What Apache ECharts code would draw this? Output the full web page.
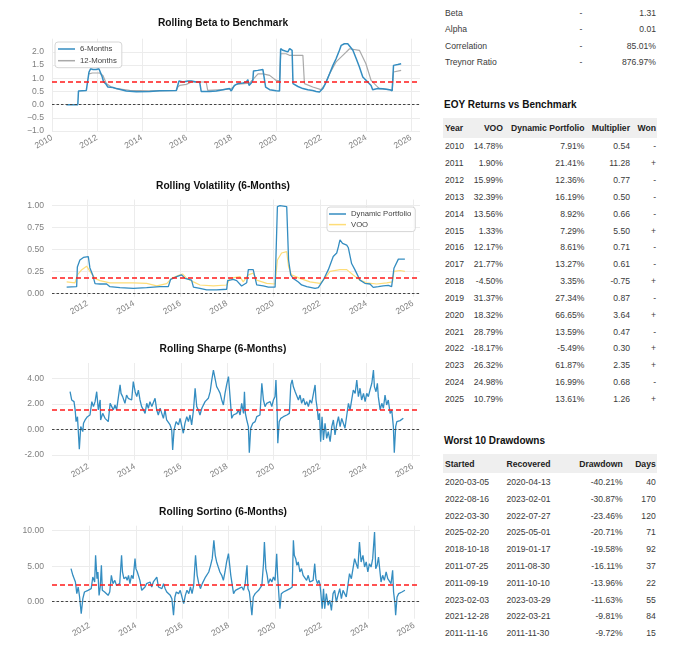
<!DOCTYPE html>
<html>
<head>
<meta charset="utf-8">
<script src="https://cdn.jsdelivr.net/npm/echarts@6/dist/echarts.min.js"></script>
<style>
  body { margin: 0; background: #fff; font-family: 'Liberation Sans', Arial, sans-serif; }
  #page { position: relative; width: 680px; height: 662px; overflow: hidden; }
  #main { position: absolute; left: 0; top: 0; width: 420px; height: 662px; }
  .c { position: absolute; height: 12px; line-height: 12px; font-size: 8.6px; color: #3a3a3a; white-space: nowrap; }
  .hd { font-weight: bold; color: #222; }
  .bg { position: absolute; background: #efefef; }
  .ttl { position: absolute; left: 444px; height: 12px; line-height: 12px; font-size: 10px; font-weight: bold; color: #111; }
</style>
</head>
<body>
<div id="page">
  <div id="main"></div>
</div>
<script>
// ---- rolling beta (year, value)
var beta6 = [[2010.64,0],[2011.15,0],[2011.18,0.52],[2011.53,0.54],[2011.61,0.54],[2011.65,1.24],[2011.72,1.36],[2011.83,1.33],[2011.97,1.33],[2012.09,1.36],[2012.15,1.24],[2012.24,1.05],[2012.30,0.86],[2012.39,0.80],[2012.49,0.67],[2012.72,0.65],[2012.87,0.61],[2012.94,0.54],[2013.31,0.52],[2013.76,0.49],[2014.35,0.50],[2014.80,0.53],[2015.54,0.54],[2015.62,0.53],[2015.66,0.90],[2015.84,0.86],[2015.91,0.92],[2016.06,0.90],[2016.13,0.95],[2016.21,0.90],[2016.43,0.86],[2016.58,0.86],[2016.65,0.50],[2017.02,0.50],[2017.32,0.52],[2017.62,0.57],[2017.91,0.61],[2017.99,0.52],[2018.13,0.73],[2018.29,0.80],[2018.51,0.82],[2018.66,0.86],[2018.73,0.95],[2018.78,0.73],[2018.88,0.82],[2018.95,0.92],[2018.98,1.28],[2019.17,1.30],[2019.40,1.33],[2019.47,1.28],[2019.52,0.67],[2019.70,0.57],[2019.99,0.53],[2020.14,0.52],[2020.19,2.12],[2020.29,2.06],[2020.51,2.00],[2020.59,2.12],[2020.62,2.06],[2020.70,2.06],[2020.74,0.80],[2020.96,0.69],[2021.18,0.61],[2021.40,0.57],[2021.62,0.54],[2021.77,0.50],[2021.92,0.48],[2022.07,0.61],[2022.22,0.86],[2022.37,1.17],[2022.52,1.49],[2022.66,1.74],[2022.81,2.06],[2022.89,2.25],[2023.03,2.31],[2023.18,2.31],[2023.26,2.37],[2023.41,2.06],[2023.56,1.74],[2023.70,1.43],[2023.85,1.05],[2024.07,0.86],[2024.22,0.73],[2024.29,0.57],[2024.52,0.61],[2024.74,0.60],[2025.04,0.57],[2025.16,0.53],[2025.22,1.49],[2025.41,1.52],[2025.56,1.55]];
var beta12 = [[2011.65,1.17],[2011.80,1.20],[2012.12,1.20],[2012.27,1.11],[2012.42,0.80],[2012.64,0.67],[2012.87,0.61],[2013.46,0.54],[2014.35,0.52],[2015.54,0.54],[2015.60,0.66],[2015.69,0.73],[2015.99,0.77],[2016.21,0.86],[2016.58,0.86],[2016.87,0.86],[2016.94,0.54],[2017.62,0.57],[2017.99,0.61],[2018.21,0.77],[2018.80,0.82],[2018.98,0.98],[2019.18,1.17],[2019.40,1.17],[2019.70,1.11],[2019.99,0.92],[2020.14,0.90],[2020.19,1.93],[2020.43,1.93],[2020.58,1.87],[2021.18,1.87],[2021.25,0.80],[2021.62,0.67],[2021.99,0.57],[2022.14,0.73],[2022.37,1.17],[2022.66,1.62],[2022.96,1.87],[2023.26,2.12],[2023.70,2.06],[2023.99,1.55],[2024.22,0.92],[2024.44,0.73],[2024.59,0.61],[2025.04,0.57],[2025.16,0.55],[2025.22,1.24],[2025.56,1.30]];
var betaMean = 0.87;

// ---- rolling volatility
var volPort = [[2011.11,0.07],[2011.54,0.076],[2011.57,0.30],[2011.68,0.38],[2011.83,0.41],[2012.04,0.42],[2012.11,0.29],[2012.23,0.21],[2012.33,0.11],[2012.54,0.106],[2012.83,0.106],[2012.97,0.076],[2013.40,0.065],[2013.98,0.057],[2014.55,0.065],[2015.12,0.076],[2015.48,0.076],[2015.58,0.16],[2015.84,0.19],[2016.05,0.21],[2016.13,0.22],[2016.20,0.17],[2016.48,0.15],[2016.56,0.07],[2016.84,0.057],[2017.13,0.038],[2017.56,0.038],[2017.99,0.046],[2018.03,0.145],[2018.27,0.16],[2018.42,0.145],[2018.63,0.084],[2018.85,0.12],[2018.92,0.27],[2019.13,0.27],[2019.21,0.25],[2019.28,0.095],[2019.56,0.084],[2019.78,0.07],[2020.07,0.07],[2020.17,0.99],[2020.28,1.00],[2020.57,0.99],[2020.65,0.38],[2020.74,0.21],[2020.85,0.17],[2021.07,0.13],[2021.21,0.095],[2021.43,0.076],[2021.79,0.057],[2021.93,0.065],[2022.14,0.15],[2022.36,0.27],[2022.57,0.42],[2022.72,0.46],[2022.79,0.53],[2022.86,0.61],[2022.97,0.57],[2023.15,0.55],[2023.22,0.52],[2023.36,0.34],[2023.50,0.27],[2023.72,0.15],[2023.93,0.114],[2024.15,0.106],[2024.29,0.068],[2024.51,0.076],[2024.72,0.084],[2024.94,0.09],[2025.08,0.076],[2025.18,0.285],[2025.37,0.39],[2025.65,0.39]];
var volVoo = [[2011.11,0.13],[2011.47,0.12],[2011.57,0.21],[2011.76,0.27],[2011.97,0.31],[2012.11,0.25],[2012.33,0.17],[2012.54,0.145],[2012.97,0.12],[2013.98,0.12],[2014.55,0.114],[2014.98,0.084],[2015.41,0.11],[2015.62,0.17],[2015.98,0.21],[2016.10,0.22],[2016.27,0.17],[2016.56,0.13],[2016.84,0.095],[2017.42,0.084],[2017.99,0.095],[2018.13,0.17],[2018.56,0.19],[2018.70,0.13],[2018.92,0.21],[2019.13,0.23],[2019.28,0.15],[2019.71,0.114],[2020.07,0.106],[2020.17,0.38],[2020.35,0.46],[2020.57,0.475],[2020.65,0.30],[2020.78,0.21],[2021.14,0.17],[2021.57,0.13],[2022.00,0.114],[2022.21,0.17],[2022.43,0.25],[2022.86,0.27],[2023.15,0.27],[2023.43,0.21],[2023.72,0.15],[2024.01,0.12],[2024.44,0.106],[2024.87,0.12],[2025.12,0.13],[2025.18,0.25],[2025.44,0.26],[2025.65,0.25]];
var volMean = 0.18;

// ---- rolling sharpe
var sharpe = [[2011.21,2.95],[2011.28,2.30],[2011.38,2.17],[2011.43,1.52],[2011.47,0.60],[2011.53,0.99],[2011.61,-1.57],[2011.67,0.21],[2011.76,-0.18],[2011.79,0.47],[2011.86,0.73],[2011.96,0.99],[2012.07,1.12],[2012.15,2.17],[2012.22,1.78],[2012.29,2.17],[2012.36,2.95],[2012.43,1.52],[2012.51,2.30],[2012.53,0.73],[2012.62,1.25],[2012.72,0.86],[2012.79,0.73],[2012.86,0.60],[2012.94,2.04],[2013.01,1.78],[2013.08,1.52],[2013.15,1.91],[2013.22,1.52],[2013.30,1.65],[2013.37,3.48],[2013.41,2.82],[2013.48,2.56],[2013.58,2.04],[2013.65,2.69],[2013.72,2.43],[2013.80,2.56],[2013.87,2.30],[2013.94,3.74],[2014.02,2.95],[2014.09,2.56],[2014.16,3.08],[2014.23,2.30],[2014.30,1.78],[2014.38,1.52],[2014.45,1.25],[2014.52,2.04],[2014.59,1.65],[2014.66,2.17],[2014.74,1.78],[2014.81,1.65],[2014.88,2.43],[2014.95,1.52],[2015.02,1.12],[2015.10,1.65],[2015.17,1.25],[2015.24,0.86],[2015.31,1.52],[2015.38,0.73],[2015.46,0.86],[2015.53,0.34],[2015.60,-0.05],[2015.64,-1.62],[2015.70,-0.05],[2015.79,0.60],[2015.89,0.34],[2015.96,0.86],[2016.03,0.73],[2016.10,-0.31],[2016.17,0.47],[2016.25,0.99],[2016.32,0.60],[2016.39,1.12],[2016.46,0.34],[2016.54,1.52],[2016.61,3.22],[2016.68,1.78],[2016.75,1.52],[2016.82,1.12],[2016.90,1.65],[2016.97,1.52],[2017.04,2.17],[2017.11,2.04],[2017.18,2.43],[2017.26,2.95],[2017.33,3.87],[2017.40,4.65],[2017.47,4.00],[2017.54,3.35],[2017.62,3.08],[2017.69,2.82],[2017.76,2.30],[2017.83,1.91],[2017.90,2.82],[2017.97,3.48],[2018.05,4.13],[2018.19,0.86],[2018.26,1.12],[2018.34,0.99],[2018.41,1.25],[2018.48,1.52],[2018.55,1.12],[2018.62,2.04],[2018.70,1.25],[2018.74,2.95],[2018.78,1.25],[2018.84,0.73],[2018.91,0.21],[2018.95,-1.83],[2019.01,0.08],[2019.10,0.47],[2019.20,0.60],[2019.27,0.99],[2019.34,0.86],[2019.41,1.12],[2019.49,3.61],[2019.56,2.30],[2019.63,1.78],[2019.70,2.04],[2019.77,1.91],[2019.85,2.17],[2019.92,1.78],[2019.99,2.30],[2020.06,2.56],[2020.10,3.87],[2020.15,1.52],[2020.18,-1.10],[2020.24,0.60],[2020.31,0.86],[2020.42,0.99],[2020.57,1.12],[2020.68,1.25],[2020.74,3.48],[2020.80,3.87],[2020.85,3.35],[2020.93,2.95],[2021.00,2.82],[2021.07,2.30],[2021.14,2.69],[2021.21,2.04],[2021.29,2.43],[2021.36,1.91],[2021.43,2.17],[2021.50,1.78],[2021.57,2.30],[2021.64,2.04],[2021.72,2.82],[2021.79,3.48],[2021.83,2.30],[2021.89,1.52],[2021.93,0.73],[2021.98,1.25],[2022.03,-0.97],[2022.09,0.99],[2022.15,-0.84],[2022.22,0.47],[2022.29,-0.71],[2022.36,-0.18],[2022.44,-0.97],[2022.51,0.21],[2022.58,0.73],[2022.65,-0.44],[2022.72,0.34],[2022.80,0.99],[2022.87,0.21],[2022.94,0.86],[2023.01,0.47],[2023.08,0.08],[2023.16,1.12],[2023.23,2.04],[2023.30,1.52],[2023.37,2.30],[2023.44,3.08],[2023.52,2.82],[2023.59,3.87],[2023.66,2.56],[2023.73,3.22],[2023.80,2.30],[2023.88,2.82],[2023.95,2.17],[2024.02,2.82],[2024.09,2.56],[2024.16,3.08],[2024.24,3.61],[2024.31,4.65],[2024.35,3.35],[2024.42,2.95],[2024.48,3.61],[2024.52,2.56],[2024.60,1.52],[2024.67,2.04],[2024.74,1.65],[2024.81,2.69],[2024.88,1.91],[2024.95,2.30],[2025.03,1.25],[2025.10,1.52],[2025.17,0.21],[2025.21,-1.83],[2025.27,0.21],[2025.32,0.60],[2025.39,0.47],[2025.46,0.68],[2025.53,0.73],[2025.60,0.86]];
var sharpeMean = 1.51;

// ---- rolling sortino
var sortino = [[2011.20,4.65],[2011.28,3.71],[2011.35,3.94],[2011.39,2.77],[2011.45,1.13],[2011.51,2.07],[2011.57,0.66],[2011.64,-1.69],[2011.71,0.42],[2011.78,1.36],[2011.86,1.13],[2011.93,1.60],[2012.00,1.36],[2012.07,1.83],[2012.14,3.47],[2012.22,2.77],[2012.26,6.53],[2012.32,3.24],[2012.36,4.18],[2012.41,0.89],[2012.46,2.07],[2012.51,5.12],[2012.55,1.60],[2012.65,1.36],[2012.72,1.60],[2012.80,0.89],[2012.87,1.36],[2012.94,3.71],[2013.01,2.54],[2013.09,3.00],[2013.16,2.30],[2013.23,2.54],[2013.30,2.54],[2013.38,6.53],[2013.42,4.18],[2013.48,3.24],[2013.57,3.47],[2013.62,3.00],[2013.68,3.71],[2013.74,2.54],[2013.81,3.71],[2013.88,3.24],[2013.96,6.06],[2014.00,4.65],[2014.06,4.18],[2014.12,4.41],[2014.17,3.00],[2014.25,1.60],[2014.32,1.83],[2014.39,2.07],[2014.46,2.54],[2014.54,2.30],[2014.61,2.77],[2014.68,2.07],[2014.75,2.77],[2014.83,2.54],[2014.90,3.47],[2014.97,2.07],[2015.04,2.30],[2015.12,1.83],[2015.19,2.54],[2015.26,1.83],[2015.33,1.36],[2015.41,1.60],[2015.48,0.89],[2015.55,0.42],[2015.62,-1.92],[2015.68,0.66],[2015.74,1.36],[2015.84,1.13],[2015.91,1.60],[2015.99,1.36],[2016.06,-0.28],[2016.13,0.89],[2016.20,1.60],[2016.28,1.13],[2016.35,2.07],[2016.42,1.13],[2016.49,2.30],[2016.57,6.53],[2016.64,3.71],[2016.71,2.54],[2016.78,1.83],[2016.86,2.54],[2016.93,2.30],[2017.00,3.47],[2017.07,3.24],[2017.14,4.18],[2017.22,5.12],[2017.29,6.06],[2017.36,8.64],[2017.42,6.53],[2017.48,5.59],[2017.55,4.88],[2017.62,4.18],[2017.70,3.71],[2017.77,3.00],[2017.84,4.18],[2017.91,5.59],[2017.99,6.76],[2018.03,7.00],[2018.09,3.71],[2018.21,1.13],[2018.29,1.60],[2018.36,1.36],[2018.43,1.83],[2018.50,1.60],[2018.57,2.07],[2018.64,1.60],[2018.71,2.54],[2018.79,5.12],[2018.83,1.83],[2018.89,1.36],[2018.94,-0.05],[2019.00,-1.92],[2019.06,0.66],[2019.14,1.13],[2019.21,1.36],[2019.29,1.60],[2019.36,1.83],[2019.43,2.30],[2019.50,5.35],[2019.54,8.40],[2019.60,4.65],[2019.66,3.71],[2019.71,2.54],[2019.79,3.24],[2019.86,2.77],[2019.93,3.47],[2020.00,3.00],[2020.07,6.76],[2020.11,3.71],[2020.17,0.66],[2020.21,-0.99],[2020.27,1.13],[2020.36,1.36],[2020.50,1.60],[2020.64,1.83],[2020.74,2.07],[2020.79,8.64],[2020.83,6.53],[2020.89,6.06],[2020.94,5.12],[2021.00,5.59],[2021.07,4.18],[2021.14,4.65],[2021.21,3.71],[2021.29,3.94],[2021.36,3.00],[2021.43,3.71],[2021.50,2.77],[2021.57,2.54],[2021.64,3.00],[2021.71,5.35],[2021.76,3.24],[2021.83,2.54],[2021.89,3.00],[2021.93,2.54],[2021.97,1.36],[2022.03,-0.99],[2022.09,1.83],[2022.14,-0.99],[2022.21,1.13],[2022.29,-0.52],[2022.36,0.19],[2022.43,-1.22],[2022.50,1.13],[2022.57,1.60],[2022.64,-0.05],[2022.71,0.89],[2022.79,1.83],[2022.86,0.42],[2022.93,1.60],[2023.00,1.13],[2023.07,0.66],[2023.14,2.30],[2023.21,3.94],[2023.29,3.24],[2023.36,4.65],[2023.43,6.06],[2023.50,5.35],[2023.57,4.65],[2023.64,8.40],[2023.71,5.59],[2023.79,6.53],[2023.86,4.88],[2023.93,5.59],[2024.00,4.18],[2024.07,5.35],[2024.14,4.88],[2024.21,6.06],[2024.29,9.81],[2024.34,4.65],[2024.40,5.12],[2024.46,6.29],[2024.51,4.65],[2024.57,2.77],[2024.64,3.71],[2024.71,3.00],[2024.79,4.18],[2024.86,3.24],[2024.93,3.47],[2025.00,2.54],[2025.07,4.41],[2025.11,1.36],[2025.17,-0.28],[2025.20,-1.92],[2025.26,0.66],[2025.33,1.13],[2025.40,1.13],[2025.47,1.36],[2025.54,1.45],[2025.60,1.60]];
var sortinoMean = 2.37;

// ---- axis ticks
var yearTicks = [2010, 2012, 2014, 2016, 2018, 2020, 2022, 2024, 2026];
var yearTicks2 = [2012, 2014, 2016, 2018, 2020, 2022, 2024, 2026];
var betaTicks = [-1, -0.5, 0, 0.5, 1, 1.5, 2];
var volTicks = [0, 0.25, 0.5, 0.75, 1];
var sharpeTicks = [-2, 0, 2, 4];
var sortinoTicks = [0, 5, 10];

// ---- tables
var metricNames = ['Beta', 'Alpha', 'Correlation', 'Treynor Ratio'];
var metricVals = ['1.31', '0.01', '85.01%', '876.97%'];

var eoyYears = [2010, 2011, 2012, 2013, 2014, 2015, 2016, 2017, 2018, 2019, 2020, 2021, 2022, 2023, 2024, 2025];
var eoyVoo = [14.78, 1.90, 15.99, 32.39, 13.56, 1.33, 12.17, 21.77, -4.50, 31.37, 18.32, 28.79, -18.17, 26.32, 24.98, 10.79];
var eoyPort = [7.91, 21.41, 12.36, 16.19, 8.92, 7.29, 8.61, 13.27, 3.35, 27.34, 66.65, 13.59, -5.49, 61.87, 16.99, 13.61];
var eoyMult = [0.54, 11.28, 0.77, 0.50, 0.66, 5.50, 0.71, 0.61, -0.75, 0.87, 3.64, 0.47, 0.30, 2.35, 0.68, 1.26];
var eoyWon = ['-', '+', '-', '-', '-', '+', '-', '-', '+', '-', '+', '-', '+', '+', '-', '+'];

var ddStart = ['2020-03-05', '2022-08-16', '2022-03-30', '2025-02-20', '2018-10-18', '2011-07-25', '2011-09-19', '2023-02-03', '2021-12-28', '2011-11-16'];
var ddEnd = ['2020-04-13', '2023-02-01', '2022-07-27', '2025-05-01', '2019-01-17', '2011-08-30', '2011-10-10', '2023-03-29', '2022-03-21', '2011-11-30'];
var ddDepth = [-40.21, -30.87, -23.46, -20.71, -19.58, -16.11, -13.96, -11.63, -9.81, -9.72];
var ddDays = [40, 170, 120, 71, 92, 37, 22, 55, 84, 15];

var BLUE = '#348dc1', GRAY = '#a9a9a9', YELLOW = '#fedd78';
var LABEL = '#7f7f7f', SPLIT = '#ececec';
var FONT = 'Liberation Sans';

// html tables ----------------------------------------------------------
var page = document.getElementById('page');
function cell(text, x, align, yc, cls) {
    var d = document.createElement('div');
    d.className = 'c' + (cls ? ' ' + cls : '');
    d.textContent = text;
    d.style.top = (yc - 6) + 'px';
    if (align === 'left') d.style.left = x + 'px';
    else if (align === 'right') d.style.right = (680 - x) + 'px';
    else { d.style.left = (x - 20) + 'px'; d.style.width = '40px'; d.style.textAlign = 'center'; }
    page.appendChild(d);
}
function box(cls, x, y, w, h, text) {
    var d = document.createElement('div');
    d.className = cls;
    d.style.left = x + 'px'; d.style.top = y + 'px';
    if (w) d.style.width = w + 'px';
    if (h) d.style.height = h + 'px';
    if (text) d.textContent = text;
    page.appendChild(d);
}
function pct(v) { return v.toFixed(2) + '%'; }

metricNames.forEach(function (n, i) {
    var yc = 12.7 + i * 16.5;
    cell(n, 445, 'left', yc);
    cell('-', 581, 'center', yc);
    cell(metricVals[i], 656, 'right', yc);
});

box('ttl', 444, 99, 0, 0, 'EOY Returns vs Benchmark');
box('bg', 443, 118, 214, 20);
var eoyCols = [[445, 'left'], [503, 'right'], [584.5, 'right'], [630, 'right'], [656, 'right']];
['Year', 'VOO', 'Dynamic Portfolio', 'Multiplier', 'Won'].forEach(function (h, j) {
    cell(h, eoyCols[j][0], eoyCols[j][1], 128.3, 'hd');
});
eoyYears.forEach(function (y, i) {
    var yc = 146.4 + i * 16.83;
    var row = [String(y), pct(eoyVoo[i]), pct(eoyPort[i]), eoyMult[i].toFixed(2), eoyWon[i]];
    row.forEach(function (t, j) { cell(t, eoyCols[j][0], eoyCols[j][1], yc); });
});

box('ttl', 444, 434.7, 0, 0, 'Worst 10 Drawdowns');
box('bg', 443, 454.3, 214, 19);
var ddCols = [[445, 'left'], [506.5, 'left'], [622.7, 'right'], [655.7, 'right']];
['Started', 'Recovered', 'Drawdown', 'Days'].forEach(function (h, j) {
    cell(h, ddCols[j][0], ddCols[j][1], 464.2, 'hd');
});
ddStart.forEach(function (s, i) {
    var yc = 482 + i * 16.8;
    var row = [s, ddEnd[i], pct(ddDepth[i]), String(ddDays[i])];
    row.forEach(function (t, j) { cell(t, ddCols[j][0], ddCols[j][1], yc); });
});

// charts ----------------------------------------------------------------
var grids = [
    { left: 52, width: 368, top: 38.7, height: 92.4 },
    { left: 52, width: 368, top: 199.6, height: 97.2 },
    { left: 52, width: 368, top: 363, height: 96.9 },
    { left: 52, width: 368, top: 525.7, height: 93 }
];
var xRanges = [[2010, 2026.4], [2010.48, 2026.3], [2010.43, 2026.32], [2010.38, 2026.25]];
var yRanges = [[-1, 2.5], [-0.04, 1.07], [-2.4, 5.2], [-2.4, 10.7]];
var yTickSets = [betaTicks, volTicks, sharpeTicks, sortinoTicks];
var yFmt = [
    function (v) { return v.toFixed(1).replace('-', '\u2212'); },
    function (v) { return v.toFixed(2); },
    function (v) { return v.toFixed(2); },
    function (v) { return v.toFixed(2); }
];

var xAxes = grids.map(function (g, i) {
    var ticks = i === 0 ? yearTicks : yearTicks2;
    return {
        type: 'value', gridIndex: i, min: xRanges[i][0], max: xRanges[i][1],
        axisLine: { show: false },
        axisTick: { show: false, customValues: ticks },
        splitLine: { show: true, lineStyle: { color: SPLIT, width: 1 } },
        axisLabel: {
            customValues: ticks, rotate: 30, margin: 6, color: LABEL,
            fontSize: 8.6, fontFamily: FONT,
            formatter: function (v) { return String(Math.round(v)); }
        }
    };
});
var yAxes = grids.map(function (g, i) {
    return {
        type: 'value', gridIndex: i, min: yRanges[i][0], max: yRanges[i][1],
        axisLine: { show: false },
        axisTick: { show: false, customValues: yTickSets[i] },
        splitLine: { show: true, lineStyle: { color: SPLIT, width: 1 } },
        axisLabel: {
            customValues: yTickSets[i], margin: 8, color: LABEL,
            fontSize: 8.6, fontFamily: FONT, formatter: yFmt[i]
        }
    };
});

function refLines(mean) {
    return {
        silent: true, symbol: ['none', 'none'], label: { show: false }, animation: false,
        data: [
            { yAxis: 0, lineStyle: { color: '#444', type: [2.5, 2], width: 1 } },
            { yAxis: mean, lineStyle: { color: '#ff1a1a', type: [5, 3], width: 1.5 } }
        ]
    };
}
function line(name, data, idx, color, width, mean) {
    var s = {
        name: name, type: 'line', xAxisIndex: idx, yAxisIndex: idx, data: data,
        showSymbol: false, symbol: 'none', sampling: 'none',
        itemStyle: { color: color },
        lineStyle: { color: color, width: width }
    };
    if (mean !== undefined) s.markLine = refLines(mean);
    return s;
}

var titles = ['Rolling Beta to Benchmark', 'Rolling Volatility (6-Months)', 'Rolling Sharpe (6-Months)', 'Rolling Sortino (6-Months)'];
var titleY = [17.8, 181.5, 344.5, 507.2];

var myChart = echarts.init(document.getElementById('main'));
var option = {
    animation: false,
    backgroundColor: '#fff',
    title: titles.map(function (t, i) {
        return {
            text: t, left: 223, top: titleY[i], textAlign: 'center', padding: 0,
            textStyle: { fontSize: 10.2, fontWeight: 'bold', color: '#111', fontFamily: FONT }
        };
    }),
    legend: [
        {
            data: ['6-Months', '12-Months'], orient: 'vertical', left: 55, top: 42,
            icon: 'rect', itemWidth: 17, itemHeight: 1.5, itemGap: 3.7,
            padding: [3, 5, 3, 3], borderColor: '#d6d6d6', borderWidth: 1, borderRadius: 3,
            backgroundColor: 'rgba(255,255,255,0.85)',
            textStyle: { fontSize: 7.8, color: '#444', fontFamily: FONT }
        },
        {
            data: ['Dynamic Portfolio', 'VOO'], orient: 'vertical', left: 327, top: 207,
            icon: 'rect', itemWidth: 17, itemHeight: 1.5, itemGap: 2.6,
            padding: [3, 4, 3, 2], borderColor: '#d6d6d6', borderWidth: 1, borderRadius: 3,
            backgroundColor: 'rgba(255,255,255,0.85)',
            textStyle: { fontSize: 7.7, color: '#444', fontFamily: FONT }
        }
    ],
    grid: grids,
    xAxis: xAxes,
    yAxis: yAxes,
    series: [
        line('12-Months', beta12, 0, GRAY, 1.2),
        line('6-Months', beta6, 0, BLUE, 1.5, betaMean),
        line('VOO', volVoo, 1, YELLOW, 1.2),
        line('Dynamic Portfolio', volPort, 1, BLUE, 1.3, volMean),
        line('Sharpe', sharpe, 2, BLUE, 1.3, sharpeMean),
        line('Sortino', sortino, 3, BLUE, 1.3, sortinoMean)
    ]
};
myChart.setOption(option);
</script>
</body>
</html>
